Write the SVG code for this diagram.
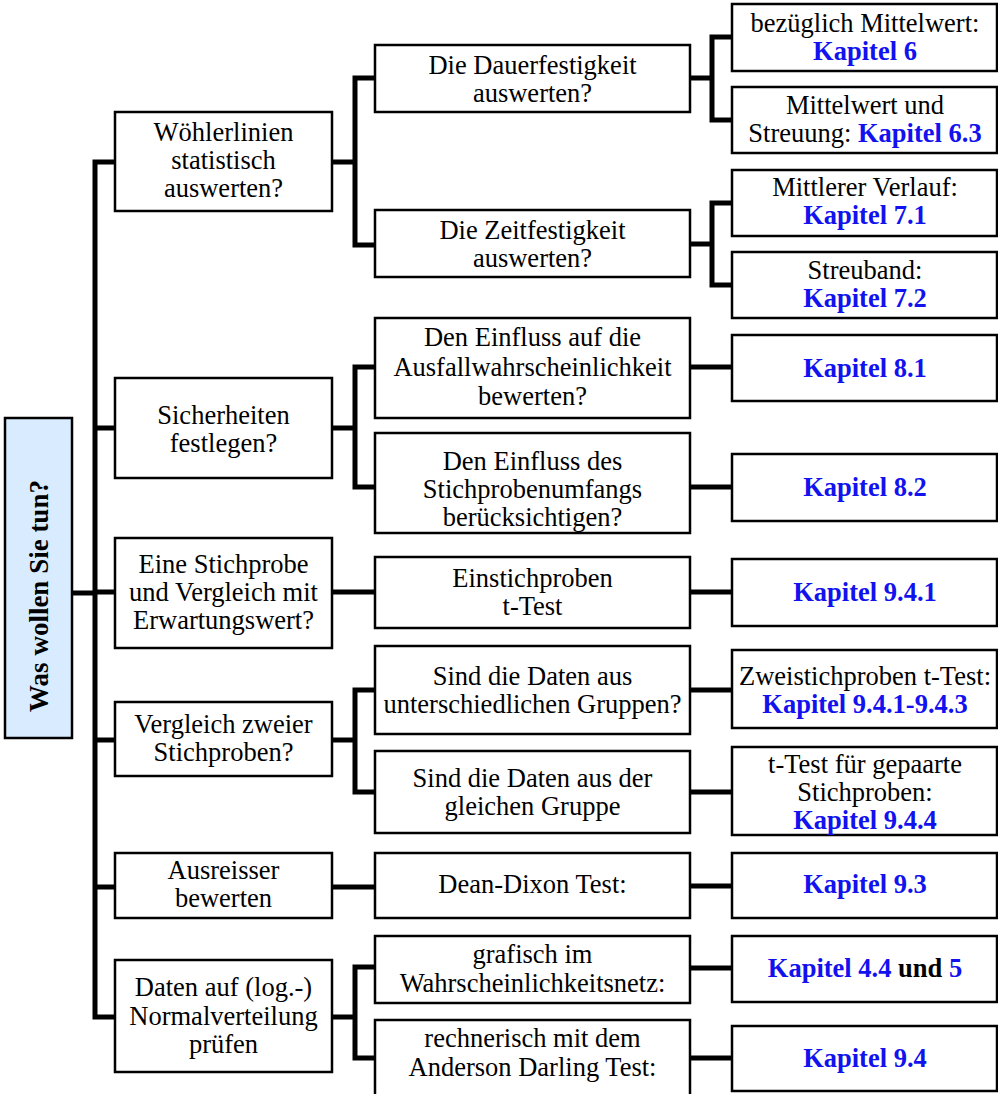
<svg xmlns="http://www.w3.org/2000/svg" width="998" height="1094" viewBox="0 0 998 1094">
<style>
.box{fill:#ffffff;stroke:#000;stroke-width:2.5}
.root{fill:#d9ecff;stroke:#000;stroke-width:2.5}
.c{fill:none;stroke:#000;stroke-width:5;stroke-linejoin:miter;stroke-linecap:butt}
text{font-family:"Liberation Serif","Times New Roman",serif;font-size:26.5px;fill:#000;text-anchor:middle}
.k{font-weight:bold;fill:#1212ee}
.b{font-weight:bold}
</style>
<rect width="998" height="1094" fill="#ffffff"/>
<g id="connectors">
<path class="c" d="M72,593 H95"/>
<path class="c" d="M115,162 H95 V1017 H115"/>
<path class="c" d="M95,428 H115 M95,592 H115 M95,740 H115 M95,887 H115"/>
<path class="c" d="M332,162 H355 M375,78 H355 V245 H375"/>
<path class="c" d="M690,78 H712 M732,37 H712 V120 H732"/>
<path class="c" d="M690,244 H712 M732,203 H712 V285 H732"/>
<path class="c" d="M332,428 H355 M375,367 H355 V487 H375"/>
<path class="c" d="M690,367 H732 M690,487 H732"/>
<path class="c" d="M332,592 H375 M690,592 H732"/>
<path class="c" d="M332,740 H355 M375,690 H355 V792 H375"/>
<path class="c" d="M690,690 H732 M690,792 H732"/>
<path class="c" d="M332,887 H375 M690,886 H732"/>
<path class="c" d="M332,1017 H355 M375,967 H355 V1058 H375"/>
<path class="c" d="M690,968 H732 M690,1058 H732"/>
</g>
<g id="root">
<rect class="root" x="5" y="418" width="67" height="320"/>
<text class="b" style="font-size:27px" transform="translate(48,596) rotate(-90)">Was wollen Sie tun?</text>
</g>
<g id="n-woehler">
<rect class="box" x="115" y="112" width="217" height="99"/>
<text x="223.5" y="141">Wöhlerlinien</text>
<text x="223.5" y="169">statistisch</text>
<text x="223.5" y="197">auswerten?</text>
</g>
<g id="n-dauer">
<rect class="box" x="375" y="45" width="315" height="67"/>
<text x="532.5" y="74">Die Dauerfestigkeit</text>
<text x="532.5" y="102">auswerten?</text>
</g>
<g id="n-zeit">
<rect class="box" x="375" y="210" width="315" height="67"/>
<text x="532.5" y="239">Die Zeitfestigkeit</text>
<text x="532.5" y="267">auswerten?</text>
</g>
<g id="n-k6">
<rect class="box" x="732" y="4" width="265" height="67"/>
<text x="865" y="32">bezüglich Mittelwert:</text>
<text class="k" x="865" y="60">Kapitel 6</text>
</g>
<g id="n-k63">
<rect class="box" x="732" y="87" width="265" height="66"/>
<text x="865" y="114">Mittelwert und</text>
<text x="865" y="142">Streuung: <tspan class="k">Kapitel 6.3</tspan></text>
</g>
<g id="n-k71">
<rect class="box" x="732" y="170" width="265" height="66"/>
<text x="865" y="196">Mittlerer Verlauf:</text>
<text class="k" x="865" y="224">Kapitel 7.1</text>
</g>
<g id="n-k72">
<rect class="box" x="732" y="252" width="265" height="66"/>
<text x="865" y="279">Streuband:</text>
<text class="k" x="865" y="307">Kapitel 7.2</text>
</g>
<g id="n-sicher">
<rect class="box" x="115" y="378" width="217" height="100"/>
<text x="223.5" y="424">Sicherheiten</text>
<text x="223.5" y="452">festlegen?</text>
</g>
<g id="n-einfluss1">
<rect class="box" x="375" y="318" width="315" height="100"/>
<text x="532.5" y="346">Den Einfluss auf die</text>
<text x="532.5" y="376">Ausfallwahrscheinlichkeit</text>
<text x="532.5" y="405">bewerten?</text>
</g>
<g id="n-einfluss2">
<rect class="box" x="375" y="433" width="315" height="100"/>
<text x="532.5" y="470">Den Einfluss des</text>
<text x="532.5" y="498">Stichprobenumfangs</text>
<text x="532.5" y="526">berücksichtigen?</text>
</g>
<g id="n-k81">
<rect class="box" x="732" y="335" width="265" height="66"/>
<text class="k" x="865" y="377">Kapitel 8.1</text>
</g>
<g id="n-k82">
<rect class="box" x="732" y="454" width="265" height="67"/>
<text class="k" x="865" y="496">Kapitel 8.2</text>
</g>
<g id="n-eine">
<rect class="box" x="115" y="538" width="217" height="110"/>
<text x="223.5" y="573">Eine Stichprobe</text>
<text x="223.5" y="601">und Vergleich mit</text>
<text x="223.5" y="629">Erwartungswert?</text>
</g>
<g id="n-einstich">
<rect class="box" x="375" y="557" width="315" height="71"/>
<text x="532.5" y="587">Einstichproben</text>
<text x="532.5" y="615">t-Test</text>
</g>
<g id="n-k941">
<rect class="box" x="732" y="559" width="265" height="67"/>
<text class="k" x="865" y="601">Kapitel 9.4.1</text>
</g>
<g id="n-vergleich">
<rect class="box" x="115" y="702" width="217" height="74"/>
<text x="223.5" y="733">Vergleich zweier</text>
<text x="223.5" y="761">Stichproben?</text>
</g>
<g id="n-unterschiedlich">
<rect class="box" x="375" y="646" width="315" height="88"/>
<text x="532.5" y="685">Sind die Daten aus</text>
<text x="532.5" y="713">unterschiedlichen Gruppen?</text>
</g>
<g id="n-gleich">
<rect class="box" x="375" y="751" width="315" height="82"/>
<text x="532.5" y="787">Sind die Daten aus der</text>
<text x="532.5" y="815">gleichen Gruppe</text>
</g>
<g id="n-zweistich">
<rect class="box" x="732" y="650" width="265" height="78"/>
<text x="865" y="685">Zweistichproben t-Test:</text>
<text class="k" x="865" y="713">Kapitel 9.4.1-9.4.3</text>
</g>
<g id="n-gepaart">
<rect class="box" x="732" y="747" width="265" height="88"/>
<text x="865" y="773">t-Test für gepaarte</text>
<text x="865" y="801">Stichproben:</text>
<text class="k" x="865" y="829">Kapitel 9.4.4</text>
</g>
<g id="n-ausreisser">
<rect class="box" x="115" y="853" width="217" height="65"/>
<text x="223.5" y="879">Ausreisser</text>
<text x="223.5" y="907">bewerten</text>
</g>
<g id="n-dean">
<rect class="box" x="375" y="853" width="315" height="65"/>
<text x="532.5" y="893">Dean-Dixon Test:</text>
</g>
<g id="n-k93">
<rect class="box" x="732" y="853" width="265" height="65"/>
<text class="k" x="865" y="893">Kapitel 9.3</text>
</g>
<g id="n-daten">
<rect class="box" x="115" y="960" width="217" height="112"/>
<text x="223.5" y="996">Daten auf (log.-)</text>
<text x="223.5" y="1025">Normalverteilung</text>
<text x="223.5" y="1053">prüfen</text>
</g>
<g id="n-grafisch">
<rect class="box" x="375" y="936" width="315" height="67"/>
<text x="532.5" y="963">grafisch im</text>
<text x="532.5" y="992">Wahrscheinlichkeitsnetz:</text>
</g>
<g id="n-rechnerisch">
<rect class="box" x="375" y="1020" width="315" height="80"/>
<text x="532.5" y="1047">rechnerisch mit dem</text>
<text x="532.5" y="1076">Anderson Darling Test:</text>
</g>
<g id="n-k44">
<rect class="box" x="732" y="936" width="265" height="66"/>
<text x="865" y="977" class="b"><tspan class="k">Kapitel 4.4</tspan> und <tspan class="k">5</tspan></text>
</g>
<g id="n-k94">
<rect class="box" x="732" y="1026" width="265" height="65"/>
<text class="k" x="865" y="1067">Kapitel 9.4</text>
</g>
</svg>
